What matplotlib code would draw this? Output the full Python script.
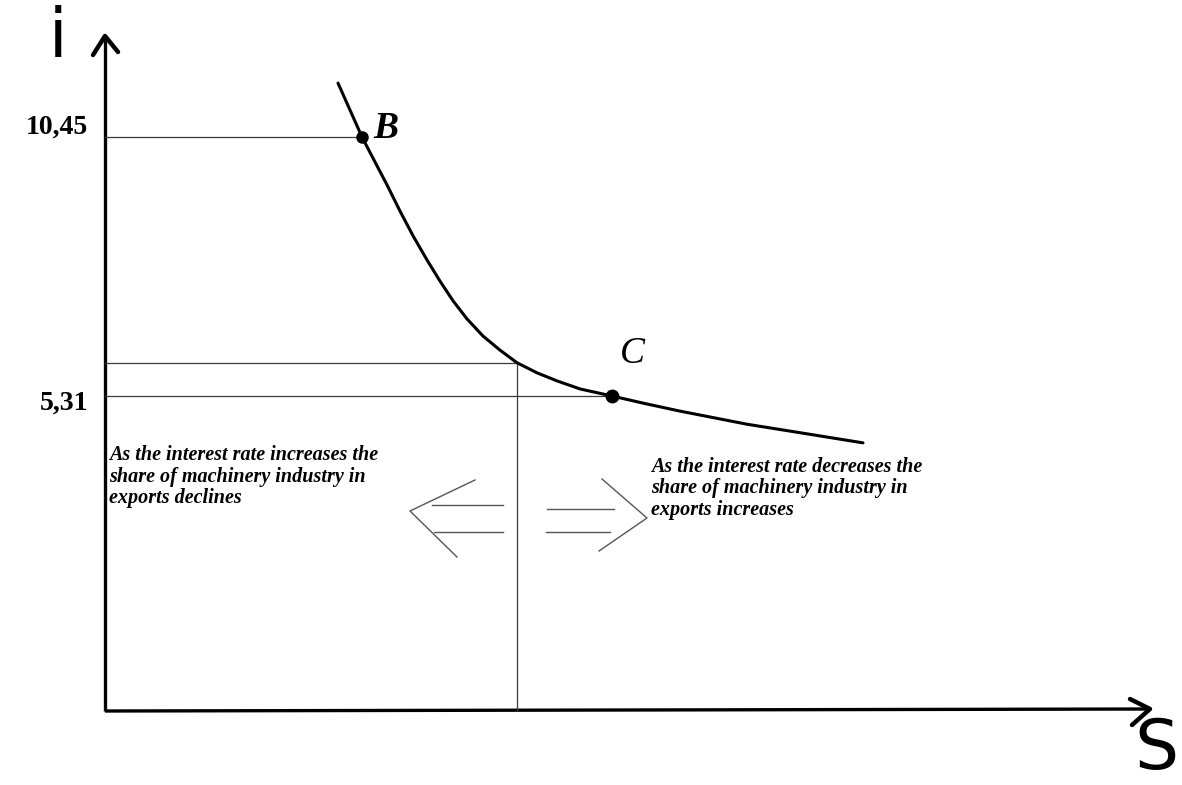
import matplotlib
matplotlib.use("Agg")
import matplotlib.pyplot as plt

# interest rate levels marked on the i axis
i_B = 10.45
i_C = 5.31
level_labels = ["10,45", "5,31"]

# curve: share S (arbitrary units) vs interest rate i
S_curve = [23.3, 25.7, 26.8, 28.2, 29.5, 30.8, 32.2, 33.5, 34.8, 36.2, 37.8, 39.5, 41.2,
           43.2, 45.2, 47.5, 50.7, 54.0, 57.5, 64.2, 70.8, 75.8]
i_curve = [11.52, 10.45, 10.03, 9.50, 8.98, 8.49, 8.01, 7.59, 7.20, 6.84, 6.50, 6.22, 5.97,
           5.77, 5.61, 5.45, 5.31, 5.16, 5.01, 4.75, 4.54, 4.38]

S_B = 25.7
S_C = 50.7
S_mid = 41.2
i_mid = 5.97

text_up = "As the interest rate increases the\nshare of machinery industry in\nexports declines"
text_down = "As the interest rate decreases the\nshare of machinery industry in\nexports increases"


def to_data(x, y):
    # sketch pixel position -> data coords (used for layout only)
    return (x - 105) / 10, 5.31 + (396 - y) * 5.14 / 259


fig = plt.figure(figsize=(11.82, 7.85), dpi=100)
ax = fig.add_axes([0, 0, 1, 1])
x0, y1 = to_data(0, 0)
x1, y0 = to_data(1182, 785)
ax.set_xlim(x0, x1)
ax.set_ylim(y0, y1)
ax.axis('off')

serif = 'Liberation Serif'
black = '#000000'
grey = '#3a3a3a'

# axes with arrow heads
ox, oy = to_data(105, 711)
tx, ty = to_data(105, 36)
ax.plot([ox, tx], [oy, ty], color=black, lw=2.4, solid_capstyle='butt')
hx = [to_data(93, 55)[0], tx, to_data(118, 52)[0]]
hy = [to_data(93, 55)[1], ty, to_data(118, 52)[1]]
ax.plot(hx, hy, color=black, lw=3.2, solid_joinstyle='round', solid_capstyle='round')

ex, ey = to_data(1150, 709)
ax.plot([ox, ex], [oy, ey], color=black, lw=2.4, solid_capstyle='butt')
hx = [to_data(1130, 699)[0], ex, to_data(1132, 725)[0]]
hy = [to_data(1130, 699)[1], ey, to_data(1132, 725)[1]]
ax.plot(hx, hy, color=black, lw=3.2, solid_joinstyle='round', solid_capstyle='round')

# guide lines
ax.plot([0, S_B], [i_B, i_B], color=grey, lw=0.9)
ax.plot([0, S_C], [i_C, i_C], color=grey, lw=0.9)
ax.plot([0, S_mid, S_mid], [i_mid, i_mid, oy], color=grey, lw=0.9)

# curve and points
ax.plot(S_curve, i_curve, color=black, lw=2.2, solid_capstyle='round', solid_joinstyle='round')
ax.plot([S_B], [i_B], 'o', color=black, ms=8)
ax.plot([S_C], [i_C], 'o', color=black, ms=9)

# labels
lx, _ = to_data(88, 0)
ax.text(lx, i_B + 0.2, level_labels[0], fontsize=20, fontweight='bold', family=serif,
        ha='right', va='center')
ax.text(lx, i_C - 0.14, level_labels[1], fontsize=20, fontweight='bold', family=serif,
        ha='right', va='center')
ax.text(*to_data(373, 128), "B", fontsize=27, fontweight='bold', style='italic', family=serif,
        ha='left', va='center')
ax.text(*to_data(620, 354), "C", fontsize=27, style='italic', family=serif,
        ha='left', va='center')
ax.text(*to_data(58, 38), "i", fontsize=48, family='DejaVu Sans', ha='center', va='center')
ax.text(*to_data(1156, 750), "S", fontsize=50, family='DejaVu Sans', ha='center', va='center')

ax.text(*to_data(109, 445), text_up, fontsize=14.5, fontweight='bold', style='italic',
        family=serif, ha='left', va='top', linespacing=1.1)
ax.text(*to_data(651, 457), text_down, fontsize=14.5, fontweight='bold', style='italic',
        family=serif, ha='left', va='top', linespacing=1.1)

# double arrows
arrow_grey = '#555555'
for (xa, ya), (xb, yb) in [((432, 505), (503, 505)), ((434, 532), (503, 532)),
                           ((547, 509), (614, 509)), ((546, 532), (610, 532))]:
    p, q = to_data(xa, ya), to_data(xb, yb)
    ax.plot([p[0], q[0]], [p[1], q[1]], color=arrow_grey, lw=1.0)
for pts in [[(475, 480), (410, 511), (457, 557)], [(602, 479), (647, 518), (599, 551)]]:
    d = [to_data(*p) for p in pts]
    ax.plot([p[0] for p in d], [p[1] for p in d], color=arrow_grey, lw=1.0)

fig.savefig('out.png', dpi=100, facecolor='white')
